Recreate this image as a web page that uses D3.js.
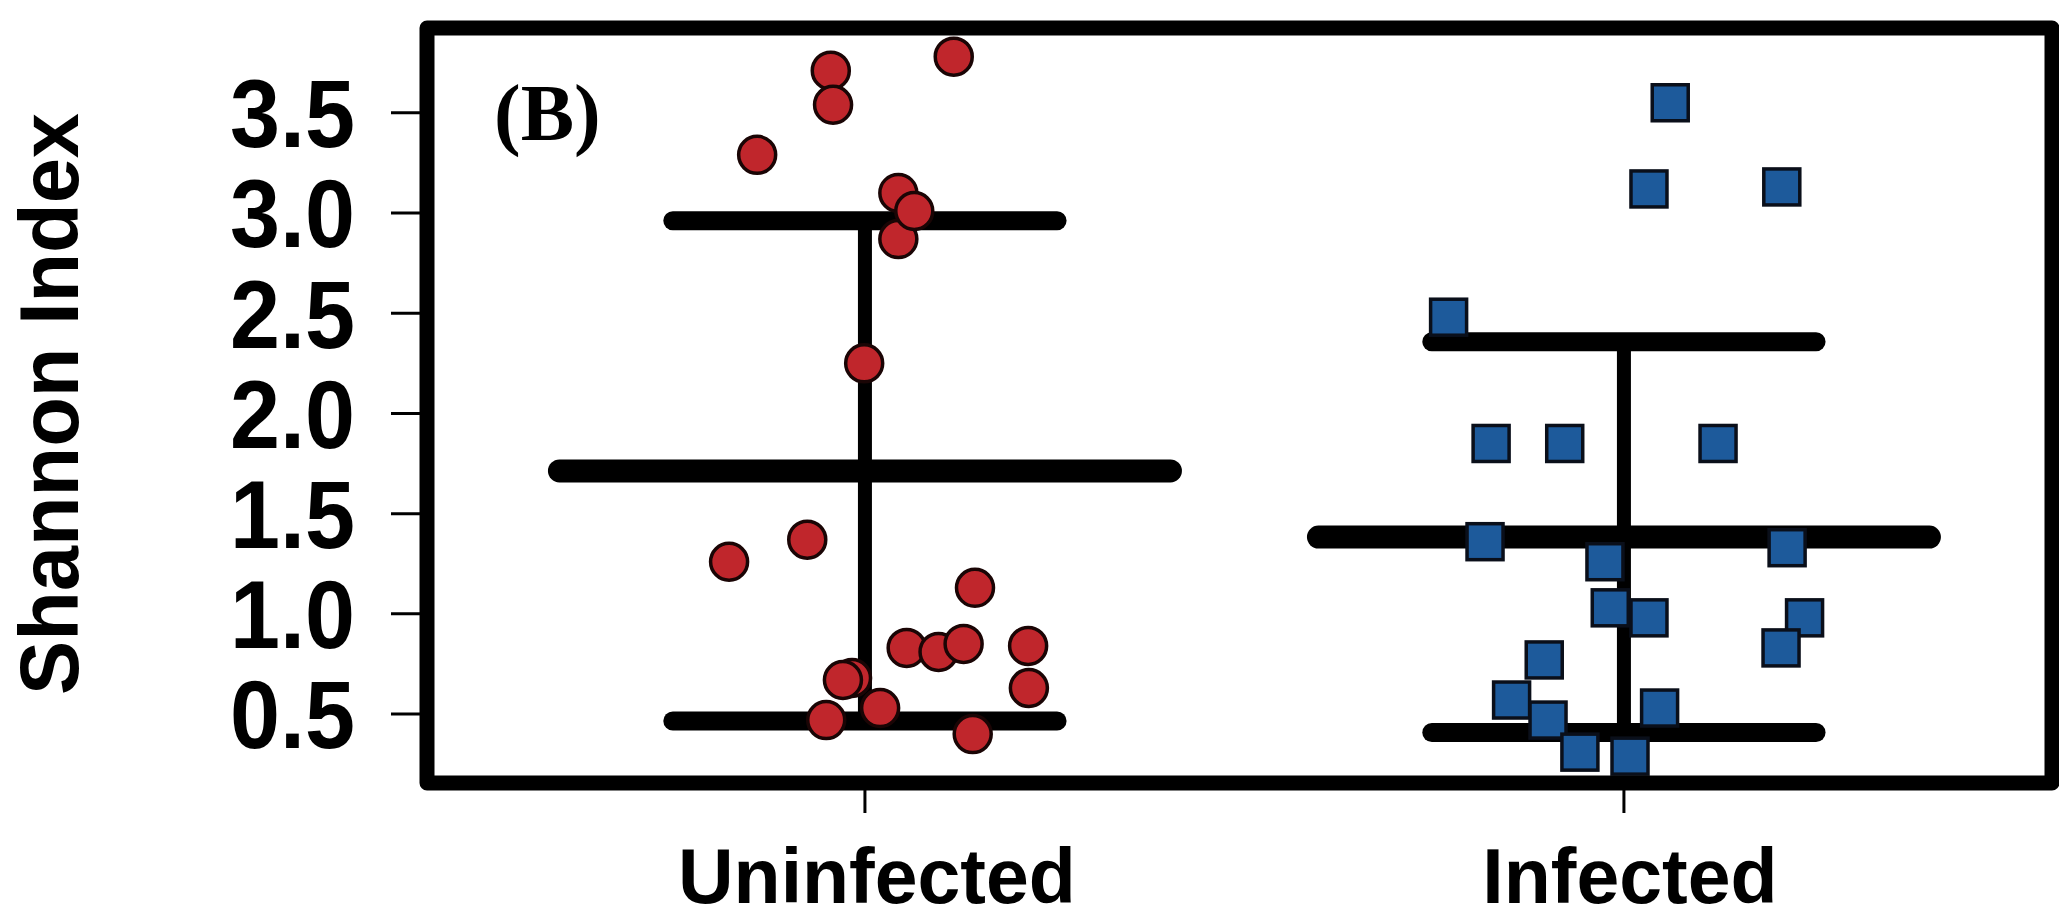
<!DOCTYPE html>
<html>
<head>
<meta charset="utf-8">
<script src="https://cdn.jsdelivr.net/npm/d3@7"></script>
<style>
  html, body { margin: 0; padding: 0; background: #fff; overflow: hidden; }
</style>
</head>
<body>
<div id="chart"></div>
<script>
// data
const groups = ['Uninfected', 'Infected'];
const yTicks = [0.5, 1.0, 1.5, 2.0, 2.5, 3.0, 3.5];

const uninfectedValues = [3.78, 3.71, 3.54, 3.29, 3.10, 2.87, 3.01, 2.25, 1.26, 1.37, 1.13,
  0.83, 0.81, 0.85, 0.84, 0.63, 0.68, 0.67, 0.47, 0.53, 0.40];
const uninfectedJitter = [0.117, -0.045, -0.042, -0.142, 0.044, 0.044, 0.065, -0.001, -0.179, -0.076, 0.145,
  0.055, 0.097, 0.130, 0.215, 0.216, -0.017, -0.029, -0.051, 0.020, 0.142];

const infectedValues = [3.55, 3.12, 3.13, 2.48, 1.85, 1.85, 1.85, 1.36, 1.33, 1.26, 1.03,
  0.98, 0.98, 0.83, 0.77, 0.57, 0.53, 0.47, 0.31, 0.29];
const infectedJitter = [0.061, 0.033, 0.208, -0.231, -0.175, -0.078, 0.124, -0.183, 0.215, -0.025, -0.018,
  0.033, 0.238, 0.207, -0.105, -0.148, 0.047, -0.100, -0.058, 0.008];

const groupMeans = [1.713, 1.383];
const groupSD = [1.248, 0.975];

const W = 2059, H = 920;
const frame = { left: 427, top: 28, right: 2052, bottom: 783 };

const svg = d3.select('#chart').append('svg').attr('width', W).attr('height', H);

const x = d3.scaleLinear().domain([0.423, 2.564]).range([frame.left, frame.right]);
const y = d3.scaleLinear().domain([0.156, 3.923]).range([frame.bottom, frame.top]);

const font = "'Liberation Sans', Arial, Helvetica, sans-serif";

// error bars: mean +/- SD
const meanHalf = 0.417, sdHalf = 0.265;
groups.forEach((g, i) => {
  const cx = i + 1;
  const m = groupMeans[i], s = groupSD[i];
  const bars = svg.append('g').attr('stroke', '#000').attr('stroke-linecap', 'round');
  bars.append('line')
    .attr('x1', x(cx)).attr('x2', x(cx))
    .attr('y1', y(m + s)).attr('y2', y(m - s))
    .attr('stroke-width', 14);
  bars.append('line')
    .attr('x1', x(cx - meanHalf) + 11).attr('x2', x(cx + meanHalf) - 11)
    .attr('y1', y(m)).attr('y2', y(m))
    .attr('stroke-width', 23);
  [m + s, m - s].forEach((v) => {
    bars.append('line')
      .attr('x1', x(cx - sdHalf) + 9).attr('x2', x(cx + sdHalf) - 9)
      .attr('y1', y(v)).attr('y2', y(v))
      .attr('stroke-width', 19);
  });
});

// points
svg.append('g')
  .selectAll('circle')
  .data(uninfectedValues.map((v, i) => ({ v, j: uninfectedJitter[i] })))
  .join('circle')
  .attr('cx', (d) => x(1 + d.j))
  .attr('cy', (d) => y(d.v))
  .attr('r', 18.5)
  .attr('fill', '#c0262c')
  .attr('stroke', '#1a0505')
  .attr('stroke-width', 3.5);

const sq = 36;
svg.append('g')
  .selectAll('rect')
  .data(infectedValues.map((v, i) => ({ v, j: infectedJitter[i] })))
  .join('rect')
  .attr('x', (d) => x(2 + d.j) - sq / 2)
  .attr('y', (d) => y(d.v) - sq / 2)
  .attr('width', sq)
  .attr('height', sq)
  .attr('fill', '#1d5a9b')
  .attr('stroke', '#0a0f1a')
  .attr('stroke-width', 3.5);

// frame
svg.append('rect')
  .attr('x', frame.left).attr('y', frame.top)
  .attr('width', frame.right - frame.left).attr('height', frame.bottom - frame.top)
  .attr('fill', 'none').attr('stroke', '#000').attr('stroke-width', 15)
  .attr('stroke-linejoin', 'round');

// y axis ticks and labels
const yAxis = svg.append('g');
yTicks.forEach((t) => {
  yAxis.append('line')
    .attr('x1', 391).attr('x2', frame.left)
    .attr('y1', y(t)).attr('y2', y(t))
    .attr('stroke', '#000').attr('stroke-width', 3);
  yAxis.append('text')
    .attr('x', 355).attr('y', y(t)).attr('dy', '0.355em')
    .attr('text-anchor', 'end')
    .attr('font-family', font).attr('font-weight', 'bold').attr('font-size', 97)
    .attr('textLength', 125).attr('lengthAdjust', 'spacingAndGlyphs')
    .text(t.toFixed(1));
});

svg.append('text')
  .attr('transform', `translate(${49 + 29},${404}) rotate(-90)`)
  .attr('text-anchor', 'middle')
  .attr('font-family', font).attr('font-weight', 'bold').attr('font-size', 84)
  .attr('textLength', 582).attr('lengthAdjust', 'spacingAndGlyphs')
  .text('Shannon Index');

// x axis ticks and labels
groups.forEach((g, i) => {
  svg.append('line')
    .attr('x1', x(i + 1)).attr('x2', x(i + 1))
    .attr('y1', frame.bottom).attr('y2', 813)
    .attr('stroke', '#000').attr('stroke-width', 3);
  svg.append('text')
    .attr('x', x(i + 1) + (i === 0 ? 12 : 6)).attr('y', 903)
    .attr('text-anchor', 'middle')
    .attr('font-family', font).attr('font-weight', 'bold').attr('font-size', 77)
    .text(g);
});

// panel tag
svg.append('text')
  .attr('x', 494).attr('y', 140)
  .attr('font-family', "'Liberation Serif', 'Times New Roman', serif")
  .attr('font-weight', 'bold').attr('font-size', 80)
  .text('(B)');
</script>
</body>
</html>
